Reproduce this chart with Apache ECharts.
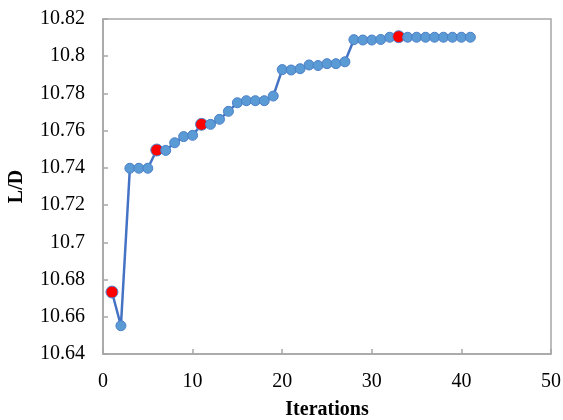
<!DOCTYPE html>
<html><head><meta charset="utf-8">
<script src="https://cdn.jsdelivr.net/npm/echarts@6/dist/echarts.min.js"></script>
<style>html,body{margin:0;padding:0;background:#fff}#c{width:563px;height:420px}</style>
</head><body><div id="c"></div>
<script>
const iterations = [1,2,3,4,5,6,7,8,9,10,11,12,13,14,15,16,17,18,19,20,21,22,23,24,25,26,27,28,29,30,31,32,33,34,35,36,37,38,39,40,41];
const ldValues = [10.6733,10.6552,10.7398,10.7398,10.7398,10.7496,10.7494,10.7535,10.7568,10.7575,
  10.7634,10.7634,10.7661,10.7704,10.775,10.7761,10.7761,10.7761,10.7786,10.7928,
  10.7926,10.7933,10.7953,10.795,10.796,10.796,10.797,10.8089,10.8087,10.8087,
  10.809,10.8102,10.8105,10.8102,10.8102,10.8102,10.8102,10.8102,10.8102,10.8102,10.8102];
const highlighted = [1,6,11,33];
const xTicks = {min:0, max:50, interval:10};
const yTicks = {min:10.64, max:10.82, interval:0.02};

const font = 'Liberation Serif, Times New Roman, serif';
const gray = '#A6A6A6';
const data = iterations.map((it,i)=>{
  const d = {value:[it, ldValues[i]]};
  if (highlighted.includes(it)) {
    d.symbolSize = 12;
    d.itemStyle = {color:'#FF0000', borderColor:'#4a86d0', borderWidth:1};
  }
  return d;
});
const chart = echarts.init(document.getElementById('c'), null, {renderer:'canvas'});
chart.setOption({
  animation:false,
  grid:{left:103, right:12, top:19, bottom:66, containLabel:false, outerBoundsMode:'none',
    show:true, borderColor:gray, borderWidth:1.5, backgroundColor:'transparent'},
  xAxis:{type:'value', min:xTicks.min, max:xTicks.max, interval:xTicks.interval,
    name:'Iterations', nameLocation:'middle', nameGap:46,
    nameTextStyle:{fontFamily:font, fontSize:20, fontWeight:'bold', color:'#000'},
    axisLine:{lineStyle:{color:gray, width:1.5}},
    axisTick:{inside:true, length:5, lineStyle:{color:gray, width:1.5}},
    axisLabel:{fontFamily:font, fontSize:20, color:'#000', margin:18},
    splitLine:{show:false}},
  yAxis:{type:'value', min:yTicks.min, max:yTicks.max, interval:yTicks.interval,
    name:'L/D', nameLocation:'middle', nameGap:76, nameRotate:90,
    nameTextStyle:{fontFamily:font, fontSize:20, fontWeight:'bold', color:'#000'},
    axisLine:{show:true, lineStyle:{color:gray, width:1.5}},
    axisTick:{show:true, inside:true, length:5, lineStyle:{color:gray, width:1.5}},
    axisLabel:{fontFamily:font, fontSize:20, color:'#000', margin:18,
      formatter:v=>String(parseFloat(v.toFixed(2)))},
    splitLine:{show:false}},
  series:[{type:'line', data:data, symbol:'circle', symbolSize:10,
    lineStyle:{color:'#4472C4', width:2.5},
    itemStyle:{color:'#5B9BD5', borderColor:'#4a7fc8', borderWidth:1}}]
});
</script></body></html>
